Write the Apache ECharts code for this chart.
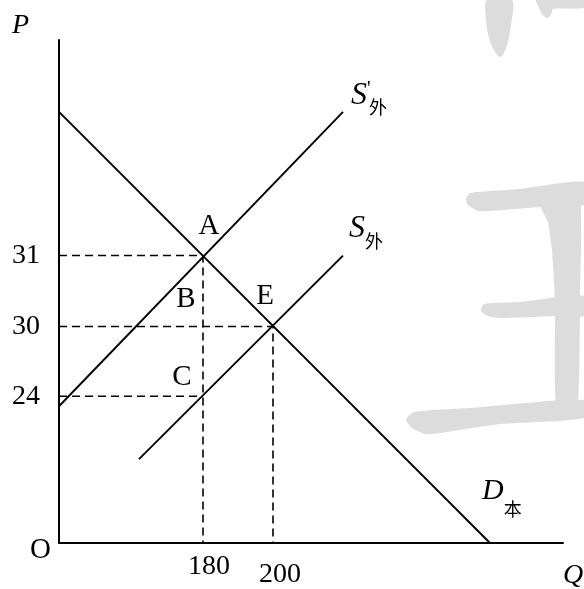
<!DOCTYPE html>
<html>
<head>
  <meta charset="utf-8">
  <title>供求</title>
  <script src="https://cdn.jsdelivr.net/npm/echarts@6/dist/echarts.min.js"></script>
  <style>
    html, body { margin: 0; padding: 0; background: #fff; }
    #main { width: 584px; height: 589px; }
  </style>
</head>
<body>
  <div id="main"></div>
  <script type="text/javascript">
    // 示意图坐标（单位随意，原点为 O）
    var yTicks = [147, 217, 288];
    var yTickLabels = ['24', '30', '31'];
    var xTicks = [144, 214];
    var xTickLabels = ['180', '200'];

    var demand = [[0, 432], [431, 0]];            // D本
    var supplyShifted = [[0, 137], [284, 432]];   // S'外
    var supply = [[80, 84], [284, 288]];          // S外

    // 虚线：31 -> A -> 180，30 -> E -> 200，24 -> C
    var guideA = [[0, 288], [144, 288], [144, 0]];
    var guideE = [[0, 217], [214, 217], [214, 0]];
    var guideC = [[0, 147], [144, 147]];

    var pointNames = ['A', 'B', 'E', 'C'];
    var pointPos = [[150, 317], [127, 244], [206, 247], [123, 166]];

    var curveNames = ['{s|S}{p|\'}{sub|外}', '{s2|S}{sub|外}', '{d|D}{sub|本}'];
    var curvePos = [[292, 448], [290, 315], [423, 52]];

    var serif = '"Liberation Serif", "DejaVu Serif", serif';
    var cjk = '"Noto Sans CJK SC", sans-serif';
    var grey = '#dcdcdc';

    var myChart = echarts.init(document.getElementById('main'), null, { renderer: 'canvas' });

    function lineSeries(data, dashed) {
      return {
        type: 'line',
        data: data,
        symbol: 'none',
        silent: true,
        z: 3,
        lineStyle: { color: '#000', width: dashed ? 1.6 : 1.9, type: dashed ? [8, 5] : 'solid' }
      };
    }

    var option = {
      animation: false,
      backgroundColor: '#fff',
      grid: { left: 59, top: 40, width: 504, height: 504 },
      xAxis: {
        type: 'value', min: 0, max: 504,
        splitLine: { show: false },
        axisTick: { show: false },
        axisLine: { lineStyle: { color: '#000', width: 2 } },
        axisLabel: {
          customValues: xTicks,
          margin: 10,
          color: '#000', fontFamily: serif, fontSize: 28,
          formatter: function (v) {
            var i = xTicks.indexOf(v);
            return '{t' + i + '|' + xTickLabels[i] + '}';
          },
          rich: {
            t0: { fontFamily: serif, fontSize: 28, color: '#000', padding: [0, 0, 0, 12] },
            t1: { fontFamily: serif, fontSize: 28, color: '#000', padding: [8, 0, 0, 14] }
          }
        }
      },
      yAxis: {
        type: 'value', min: 0, max: 504,
        splitLine: { show: false },
        axisTick: { show: false },
        axisLine: { lineStyle: { color: '#000', width: 2 } },
        axisLabel: {
          customValues: yTicks,
          margin: 19,
          padding: [0, 0, 8, 0],
          color: '#000', fontFamily: serif, fontSize: 28,
          formatter: function (v) { return yTickLabels[yTicks.indexOf(v)]; }
        }
      },
      graphic: [
        // 背景水印
        { type: 'polygon', z: -1, shape: { smooth: 0.3, points: [[487,0],[512,0],[511,25],[507,45],[501,57],[495,52],[489,38],[486,20]] }, style: { fill: grey } },
        { type: 'polygon', z: -1, shape: { smooth: 0.2, points: [[536,0],[584,0],[584,8],[553,9],[551,15],[547,18],[542,14],[538,6]] }, style: { fill: grey } },
        { type: 'polygon', z: -1, shape: { smooth: 0.2, points: [[470,193],[520,189],[584,182],[584,205],[541,207],[490,211],[478,211],[468,205],[466,199]] }, style: { fill: grey } },
        { type: 'polygon', z: -1, shape: { smooth: 0.1, points: [[541,207],[580,200],[580,300],[578,400],[556,402],[555,300],[552,250],[548,222]] }, style: { fill: grey } },
        { type: 'polygon', z: -1, shape: { smooth: 0.2, points: [[484,304],[520,302],[584,296],[584,316],[556,316],[500,318],[488,316],[481,311]] }, style: { fill: grey } },
        { type: 'polygon', z: -1, shape: { smooth: 0.2, points: [[414,412],[470,408],[584,400],[584,418],[500,424],[440,433],[425,434],[412,428],[406,420]] }, style: { fill: grey } },
        // 坐标轴名称与原点
        { type: 'text', left: 12, top: 12, style: { text: 'P', font: 'italic 28px ' + serif, fill: '#000' } },
        { type: 'text', left: 563, top: 562, style: { text: 'Q', font: 'italic 28px ' + serif, fill: '#000' } },
        { type: 'text', left: 30, top: 536, style: { text: 'O', font: '29px ' + serif, fill: '#000' } }
      ],
      series: [
        lineSeries(demand, false),
        lineSeries(supplyShifted, false),
        lineSeries(supply, false),
        lineSeries(guideA, true),
        lineSeries(guideE, true),
        lineSeries(guideC, true),
        {
          type: 'scatter',
          symbolSize: 0,
          silent: true,
          itemStyle: { opacity: 1 },
          data: pointPos.map(function (p, i) { return { name: pointNames[i], value: p }; }),
          label: {
            show: true, position: 'inside',
            formatter: '{b}',
            opacity: 1,
            color: '#000', fontFamily: serif, fontSize: 29
          }
        },
        {
          type: 'scatter',
          symbolSize: 0,
          silent: true,
          itemStyle: { opacity: 1 },
          data: curvePos.map(function (p, i) { return { name: curveNames[i], value: p }; }),
          label: {
            show: true, position: 'right', distance: 0,
            formatter: '{b}',
            opacity: 1,
            rich: {
              s: { fontFamily: serif, fontStyle: 'italic', fontSize: 32, lineHeight: 41, color: '#000' },
              s2: { fontFamily: serif, fontStyle: 'italic', fontSize: 32, lineHeight: 44, color: '#000' },
              d: { fontFamily: serif, fontStyle: 'italic', fontSize: 30, lineHeight: 54, color: '#000' },
              p: { fontFamily: serif, fontSize: 20, color: '#000', verticalAlign: 'top', width: 2, padding: [4, 0, 0, 0] },
              sub: { fontFamily: cjk, fontSize: 18, lineHeight: 19, color: '#000', verticalAlign: 'bottom' }
            }
          }
        }
      ]
    };
    myChart.setOption(option);
  </script>
</body>
</html>
